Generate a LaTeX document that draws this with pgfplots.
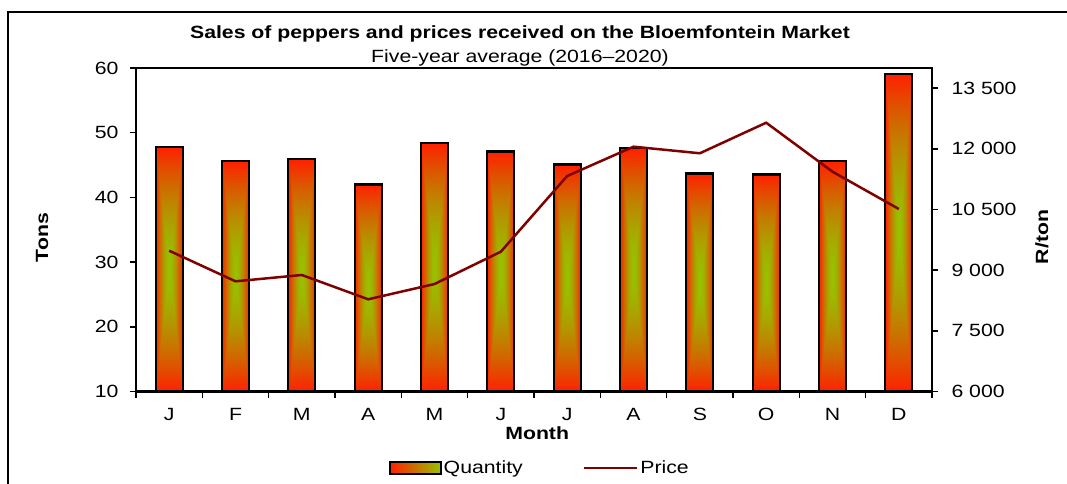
\documentclass[border=0pt]{standalone}
\usepackage{pgfplots}
\pgfplotsset{compat=1.18}
\usepackage{fontspec}
\setmainfont{Liberation Sans}[FakeStretch=1.2]
\definecolor{price}{RGB}{128,0,0}
\definecolor{gred}{RGB}{255,32,0}
\definecolor{ggreen}{RGB}{150,195,0}
\pgfdeclarefunctionalshading{bargrad}{\pgfpoint{-50bp}{-50bp}}{\pgfpoint{50bp}{50bp}}{}{%
 abs exch abs 2 copy sub abs add add 2 div 25 div 1.6 exp
 dup 0.41 mul 0.59 add exch 0.635 mul 0.76 exch sub 0
}
\newcommand\fsz{\fontsize{17.7}{21}\selectfont}
\pgfplotsset{
 qtylegend/.style={legend image code/.code={\path[draw=black, line width=1.5pt, left color=gred, right color=ggreen] (0pt,-6pt) rectangle (51pt,6pt);}},
 pricelegend/.style={legend image code/.code={\draw[price, line width=2.5pt] (0pt,0pt) -- (53pt,0pt);}},
 qbar/.style={ybar, bar width=27pt, draw=black, line width=2.2pt, shading=bargrad},
}
\begin{document}
\begin{tikzpicture}[x=1pt,y=1pt]
\useasboundingbox (0,0) rectangle (1067,484);
\draw[line width=2pt] (8,-5) -- (8,471.5) -- (1075,471.5);
\node[font=\fsz\bfseries] at (520,450) {Sales of peppers and prices received on the Bloemfontein Market};
\node[font=\fsz] at (520,426.5) {Five-year average (2016--2020)};
\begin{axis}[
 scale only axis, width=796pt, height=323.5pt,
 at={(136pt,92.5pt)}, anchor=south west,
 xmin=-0.5, xmax=11.5, ymin=10, ymax=60,
 y coord trafo/.code={\pgfmathparse{#1-10}},
 y coord inv trafo/.code={\pgfmathparse{#1+10}},
 ytick={10,20,30,40,50,60}, yticklabels={10,20,30,40,50,60},
 xtick={0,...,11}, xticklabels={J,F,M,A,M,J,J,A,S,O,N,D},
 minor xtick={-0.5,0.5,...,11.5},
 xtick pos=bottom, ytick pos=left,
 tick align=outside,
 major tick length=6pt, minor tick length=6pt,
 tick style={black, line width=1.5pt},
 major x tick style={draw=none},
 axis line style={line width=2pt},
 tick label style={font=\fsz},
 xticklabel style={yshift=-7pt},
 yticklabel style={xshift=-8pt},
 xlabel={Month}, ylabel={Tons},
 every axis x label/.style={at={(axis description cs:0.504,-0.128)}, anchor=center, font=\fsz\bfseries},
 every axis y label/.style={at={(axis description cs:-0.118,0.476)}, rotate=90, anchor=center, font=\fsz\bfseries},
 legend style={at={(axis description cs:0.5075,-0.2365)}, anchor=center, draw=none, fill=none, font=\fsz, legend columns=2,
   /tikz/every even column/.append style={column sep=58pt}},
]
\addplot[qbar, qtylegend] coordinates {(0,47.8)};
\addlegendentry{Quantity}
\addlegendimage{pricelegend}
\addlegendentry{Price}
\addplot[qbar, forget plot] coordinates {(1,45.6)};
\addplot[qbar, forget plot] coordinates {(2,45.9)};
\addplot[qbar, forget plot] coordinates {(3,42.0)};
\addplot[qbar, forget plot] coordinates {(4,48.4)};
\addplot[qbar, forget plot] coordinates {(5,47.1)};
\addplot[qbar, forget plot] coordinates {(6,45.1)};
\addplot[qbar, forget plot] coordinates {(7,47.6)};
\addplot[qbar, forget plot] coordinates {(8,43.7)};
\addplot[qbar, forget plot] coordinates {(9,43.55)};
\addplot[qbar, forget plot] coordinates {(10,45.6)};
\addplot[qbar, forget plot] coordinates {(11,59.1)};
\end{axis}
\begin{axis}[
 scale only axis, width=796pt, height=323.5pt,
 at={(136pt,92.5pt)}, anchor=south west,
 xmin=-0.5, xmax=11.5, ymin=6000, ymax=14000,
 axis y line*=right, axis x line=none,
 scaled y ticks=false,
 ytick={6000,7500,9000,10500,12000,13500},
 yticklabels={6 000,7 500,9 000,10 500,12 000,13 500},
 tick align=outside, major tick length=6pt,
 tick style={black, line width=1.5pt},
 axis line style={line width=2pt},
 tick label style={font=\fsz},
 yticklabel style={xshift=10pt},
 ylabel={R/ton},
 every axis y label/.style={at={(axis description cs:1.138,0.4776)}, rotate=90, anchor=center, font=\fsz\bfseries},
]
\addplot[price, line width=2.5pt, mark=none] coordinates {
 (0,9482) (1,8725) (2,8881) (3,8280) (4,8658) (5,9457)
 (6,11329) (7,12054) (8,11891) (9,12647) (10,11436) (11,10513)
};
\end{axis}
\end{tikzpicture}
\end{document}
